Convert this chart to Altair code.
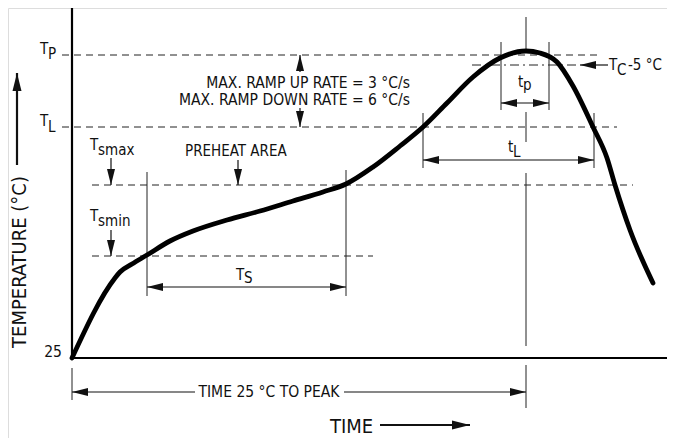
import altair as alt
import pandas as pd

# ---------------- data (time units from start, temperature units above 25 °C) -------------
curve_time = [0, 43, 48, 60, 75, 98, 121, 155, 188, 221, 251, 274, 301, 328, 351, 375,
              401, 428, 454, 468, 485, 501, 521, 535, 543, 558, 581]
curve_temp = [0, 80, 86, 94, 103, 117, 127, 138, 147, 157, 166, 174, 191, 212, 231, 255,
              281, 300, 307, 305, 296, 272, 231, 200, 173, 128, 75]

# dashed temperature levels: T_P, T_L, T_smax, T_smin
guide_level = [303, 231, 173, 102]
guide_start = [-10, -10, 20, 20]
guide_end = [530, 545, 561, 301]

# T_C -5 °C dash-dot level
tc_level = [293]
tc_start = [400]
tc_end = [508]

# thin vertical markers
marker_x = [454, 454, 454, 454, 0, 429, 477, 351, 522, 75, 274]
marker_top = [341, 246, 185, -7, -10, 316, 316, 245, 245, 186, 188]
marker_bottom = [308, 216, 12, -50, -42, 248, 248, 190, 190, 62, 62]

# horizontal arrow shafts
hshaft_y = [255, 198, 71, -34, -34, 293]
hshaft_start = [429, 351, 75, 0, 272, 508]
hshaft_end = [477, 522, 274, 123, 454, 536]

# vertical arrow shafts
vshaft_x = [228, 228, 39, 166, 39]
vshaft_from = [286, 250, 200, 198, 128]
vshaft_to = [303, 231, 173, 173, 102]

# arrow heads (tip position, direction)
head_x = [429, 477, 351, 522, 75, 274, 0, 454, 228, 228, 39, 166, 39, 508]
head_y = [255, 255, 198, 198, 71, 71, -34, -34, 303, 231, 173, 173, 102, 293]
head_angle = [180, 0, 180, 0, 180, 0, 180, 0, 270, 90, 90, 90, 90, 180]

# axis-direction arrows
big_x = [-55, 308]
big_x2 = [-55, 398]
big_y = [193, -67]
big_y2 = [285, -67]
big_head_x = [-55, 398]
big_head_y = [285, -67]
big_head_angle = [270, 0]

# axes
axis_time_end = 595
axis_temp_end = 351

# labels
left_text = ["T", "P", "T", "L", "T", "smax", "T", "smin", "PREHEAT AREA",
             "t", "p", "t", "L", "T", "S", "T", "C", "-5 °C"]
left_x = [-32, -24, -32, -24, 18, 26, 18, 26, 113, 446, 451, 436, 441, 164, 172, 537, 545, 556]
left_y = [304, 299, 232, 226, 208, 203, 137, 132, 202, 271, 268, 206, 201, 78, 75, 288, 283, 288]

right_text = ["MAX. RAMP UP RATE = 3 °C/s", "MAX. RAMP DOWN RATE = 6 °C/s", "25"]
right_x = [338, 338, -10]
right_y = [270, 253, 1]

center_text = ["TIME 25 °C TO PEAK"]
center_x = [197]
center_y = [-39]

time_title = ["TIME"]
time_title_x = [258]
time_title_y = [-75]

temp_title = ["TEMPERATURE (°C)"]
temp_title_x = [-46]
temp_title_y = [96]

# ---------------- chart -------------
FONT = "DejaVu Sans Condensed"
INK = "#111111"
THIN = "#222222"

xs = alt.Scale(domain=[-64, 595], nice=False, zero=False)
ys = alt.Scale(domain=[-80, 350], nice=False, zero=False)


def X(f):
    return alt.X(f + ":Q", scale=xs, axis=None)


def Y(f):
    return alt.Y(f + ":Q", scale=ys, axis=None)


curve = alt.Chart(pd.DataFrame({"t": curve_time, "T": curve_temp})).mark_line(
    color="black", strokeWidth=4.8, interpolate="monotone", strokeCap="round"
).encode(x=X("t"), y=Y("T"), order="t:Q")

guides = alt.Chart(pd.DataFrame({"a": guide_start, "b": guide_end, "y": guide_level})).mark_rule(
    color=THIN, strokeWidth=1, strokeDash=[7, 5]
).encode(x=X("a"), x2="b:Q", y=Y("y"))

tc_guide = alt.Chart(pd.DataFrame({"a": tc_start, "b": tc_end, "y": tc_level})).mark_rule(
    color=THIN, strokeWidth=1, strokeDash=[9, 4, 2, 4]
).encode(x=X("a"), x2="b:Q", y=Y("y"))

markers = alt.Chart(pd.DataFrame({"x": marker_x, "a": marker_top, "b": marker_bottom})).mark_rule(
    color=THIN, strokeWidth=1
).encode(x=X("x"), y=Y("a"), y2="b:Q")

hshafts = alt.Chart(pd.DataFrame({"a": hshaft_start, "b": hshaft_end, "y": hshaft_y})).mark_rule(
    color=INK, strokeWidth=1.2
).encode(x=X("a"), x2="b:Q", y=Y("y"))

vshafts = alt.Chart(pd.DataFrame({"x": vshaft_x, "a": vshaft_from, "b": vshaft_to})).mark_rule(
    color=INK, strokeWidth=1.2
).encode(x=X("x"), y=Y("a"), y2="b:Q")

ARROW = "M0,0L-2,-0.5L-2,0.5Z"

heads = alt.Chart(pd.DataFrame({"x": head_x, "y": head_y, "ang": head_angle})).mark_point(
    shape=ARROW, filled=True, color=INK, opacity=1, size=256, strokeWidth=0
).encode(x=X("x"), y=Y("y"), angle=alt.Angle("ang:Q", scale=None))

big_shafts = alt.Chart(pd.DataFrame({"x": big_x, "x2": big_x2, "y": big_y, "y2": big_y2})).mark_rule(
    color=INK, strokeWidth=2.2
).encode(x=X("x"), x2="x2:Q", y=Y("y"), y2="y2:Q")

big_heads = alt.Chart(pd.DataFrame({"x": big_head_x, "y": big_head_y, "ang": big_head_angle})).mark_point(
    shape=ARROW, filled=True, color=INK, opacity=1, size=324, strokeWidth=0
).encode(x=X("x"), y=Y("y"), angle=alt.Angle("ang:Q", scale=None))

axes_df = pd.DataFrame({"x": [0, 0], "x2": [0, axis_time_end], "y": [0, 0], "y2": [axis_temp_end, 0]})
axes = alt.Chart(axes_df).mark_rule(color="black", strokeWidth=2.2).encode(
    x=X("x"), x2="x2:Q", y=Y("y"), y2="y2:Q"
)

lefts = alt.Chart(pd.DataFrame({"x": left_x, "y": left_y, "s": left_text})).mark_text(
    align="left", baseline="alphabetic", font=FONT, fontSize=15, color=INK
).encode(x=X("x"), y=Y("y"), text="s:N")

rights = alt.Chart(pd.DataFrame({"x": right_x, "y": right_y, "s": right_text})).mark_text(
    align="right", baseline="alphabetic", font=FONT, fontSize=15.5, color=INK
).encode(x=X("x"), y=Y("y"), text="s:N")

centers = alt.Chart(pd.DataFrame({"x": center_x, "y": center_y, "s": center_text})).mark_text(
    align="center", baseline="alphabetic", font=FONT, fontSize=15.5, color=INK
).encode(x=X("x"), y=Y("y"), text="s:N")

time_lbl = alt.Chart(pd.DataFrame({"x": time_title_x, "y": time_title_y, "s": time_title})).mark_text(
    align="left", baseline="alphabetic", font=FONT, fontSize=20, color=INK
).encode(x=X("x"), y=Y("y"), text="s:N")

temp_lbl = alt.Chart(pd.DataFrame({"x": temp_title_x, "y": temp_title_y, "s": temp_title})).mark_text(
    align="center", baseline="alphabetic", angle=270, font=FONT, fontSize=20, color=INK
).encode(x=X("x"), y=Y("y"), text="s:N")

chart = alt.layer(
    guides, tc_guide, markers, hshafts, vshafts, heads, big_shafts, big_heads,
    axes, curve, lefts, rights, centers, time_lbl, temp_lbl
).properties(
    width=659, height=430, padding=0, autosize=alt.AutoSizeParams(type="none")
).configure_view(stroke=None).configure(background="white")

chart.save("out.html", embed_options={"renderer": "svg", "actions": False})
